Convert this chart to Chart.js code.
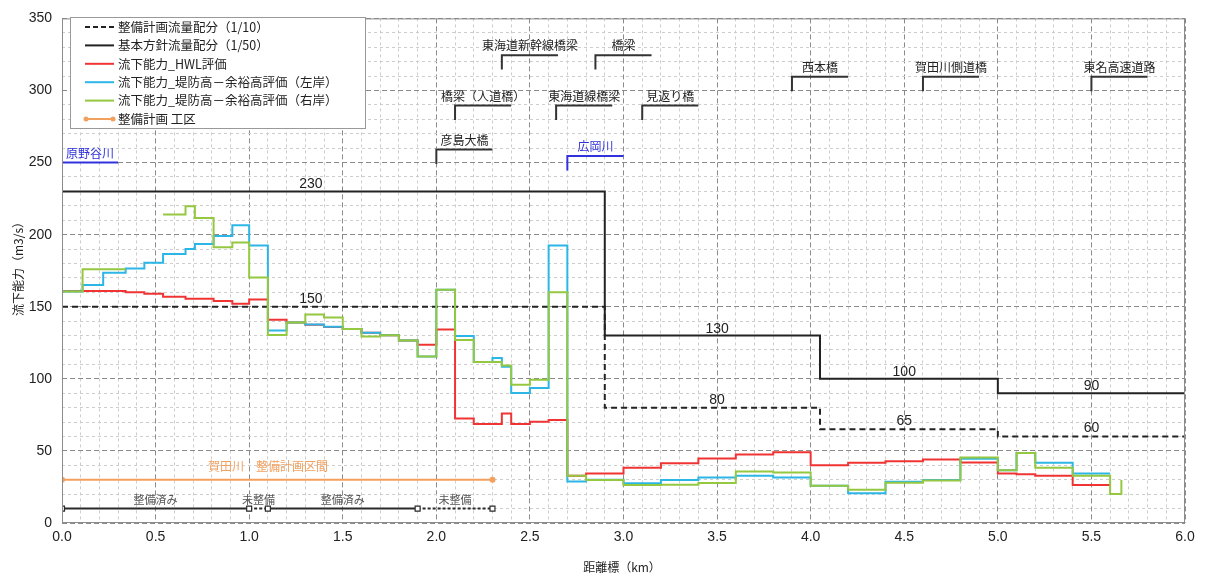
<!DOCTYPE html>
<html lang="ja">
<head>
<meta charset="utf-8">
<title>流下能力図</title>
<script src="https://cdn.jsdelivr.net/npm/chart.js@4.4.1/dist/chart.umd.min.js"></script>
<style>
  html, body { margin: 0; padding: 0; background: #fff; }
  #wrap { width: 1207px; height: 579px; position: relative; }
</style>
</head>
<body>
<div id="wrap"><canvas id="flowChart"></canvas></div>
<script>
// 計画流量配分 (区間の始点 km と流量)
const planKm = [0, 2.9, 4.05, 5.0, 6.0];
const plan10 = [150, 80, 65, 60, 60];
const plan50 = [230, 130, 100, 90, 90];
const planLabelKm = [1.33, 3.5, 4.5, 5.5];

// 流下能力 HWL評価
const hwlKm = [0, 0.34, 0.44, 0.54, 0.66, 0.81, 0.91, 1.0, 1.1, 1.2,
  1.3, 1.4, 1.5, 1.6, 1.7, 1.8, 1.9, 2.0, 2.1, 2.2,
  2.35, 2.4, 2.5, 2.6, 2.7, 2.8, 3.0, 3.2, 3.4, 3.6,
  3.8, 4.0, 4.2, 4.4, 4.6, 4.8, 5.0, 5.1, 5.2, 5.4, 5.6];
const hwlQ = [161, 160, 159, 157, 155.5, 154, 152, 155, 141, 139,
  137.5, 136, 134.5, 132, 130.2, 126.6, 123.6, 134.3, 72.5, 68.6,
  75.9, 68.6, 70.2, 71.4, 32.7, 34.3, 38.4, 41.4, 44.8, 47.5,
  49.1, 40, 41.8, 42.9, 44.1, 42, 34.3, 33.9, 32.7, 26.4, 26.4];

// 流下能力 堤防高－余裕高評価（左岸）
const leftKm = [0, 0.11, 0.22, 0.34, 0.44, 0.54, 0.66, 0.71, 0.81, 0.91,
  1.0, 1.1, 1.2, 1.3, 1.4, 1.5, 1.6, 1.7, 1.8, 1.9,
  2.0, 2.1, 2.2, 2.3, 2.35, 2.4, 2.5, 2.6, 2.7, 2.8,
  3.0, 3.2, 3.4, 3.6, 3.8, 4.0, 4.2, 4.4, 4.6, 4.8,
  5.0, 5.1, 5.2, 5.4, 5.6];
const leftQ = [160.5, 165, 173.5, 176.5, 180.5, 186.5, 190, 193.5, 199, 206.5,
  192.5, 133.5, 139, 137.7, 136.1, 134.5, 132, 130.2, 126.6, 115.5,
  161.8, 129.7, 111.6, 114.5, 108.4, 90.2, 93.6, 192.4, 28.8, 30,
  27.5, 29.8, 31.6, 32.7, 31.6, 25.9, 20.7, 28.6, 29.8, 44.5,
  36.6, 48.6, 41.8, 34.3, 34.3];

// 流下能力 堤防高－余裕高評価（右岸）  null = 欠測
const rightKm = [0, 0.11, 0.34, 0.34, 0.54, 0.66, 0.71, 0.81, 0.91, 1.0,
  1.1, 1.2, 1.3, 1.4, 1.5, 1.6, 1.7, 1.8, 1.9, 2.0,
  2.1, 2.2, 2.35, 2.4, 2.5, 2.6, 2.7, 2.8, 3.0, 3.2,
  3.4, 3.6, 3.8, 4.0, 4.2, 4.4, 4.6, 4.8, 5.0, 5.1,
  5.2, 5.4, 5.6, 5.66];
const rightQ = [160.5, 176, 176, null, 214, 219.7, 211.5, 191.3, 194.5, 170.2,
  130.4, 139, 144.7, 142.5, 134.5, 129.3, 130.2, 126.6, 115.5, 161.8,
  127, 111.6, 109.3, 95.9, 99.3, 160, 32.7, 29.8, 26.4, 26.6,
  27.7, 35.7, 35, 25.9, 23, 28, 29.5, 45.5, 36.6, 48.6,
  38.4, 32.7, 20.2, 29.8];

// 整備計画区間・工区
const sectionKm = [0, 2.3];
const sectionLevel = [30, 30];
const sectionLabel = '賀田川　整備計画区間';
const sectionLabelKm = 1.1;
const workKm = [0, 1.0, 1.1, 1.9, 2.3];
const workLevel = [10, 10, 10, 10, 10];
const workState = ['整備済み', '未整備', '整備済み', '未整備'];

// 橋梁・支川
const bridgeNames = ['原野谷川', '彦島大橋', '橋梁（人道橋）', '東海道新幹線橋梁', '東海道線橋梁',
  '橋梁', '見返り橋', '広岡川', '西本橋', '賀田川側道橋', '東名高速道路'];
const bridgeKm = [0.0, 2.0, 2.1, 2.35, 2.64, 2.85, 3.1, 2.7, 3.9, 4.6, 5.5];
const bridgeLevel = [250, 259, 289.5, 324.5, 289.5, 324.5, 289.5, 254.5, 309.5, 309.5, 309.5];
const bridgeIsRiver = [true, false, false, false, false, false, false, true, false, false, false];

// 軸
const xTickStep = 0.1;
const yTickStep = 10;

// スタイル
const RED = '#f03434';
const CYAN = '#2cb6e6';
const GREEN = '#94c840';
const ORANGE = '#f2a05e';
const BLUE = '#3232dc';
const JP = '"Noto Sans CJK JP", sans-serif';
const BRACKET_W = 0.3;
const BRACKET_DROP = 10;

Chart.defaults.font.family = '"Liberation Sans Narrow", "Liberation Sans", sans-serif';
Chart.defaults.font.size = 14;
Chart.defaults.color = '#222';

function pts(km, q) {
    return km.map((x, i) => ({ x: x, y: q[i] }));
}
function isMajor(v, step) {
    return Math.abs(v / step - Math.round(v / step)) < 1e-6;
}

const datasets = [];
// order が小さいほど前面に描かれる
datasets.push({ label: '流下能力_堤防高－余裕高評価（右岸）', data: pts(rightKm, rightQ), borderColor: GREEN, borderWidth: 2, stepped: true, pointRadius: 0, order: 1 });
datasets.push({ label: '流下能力_堤防高－余裕高評価（左岸）', data: pts(leftKm, leftQ), borderColor: CYAN, borderWidth: 2, stepped: true, pointRadius: 0, order: 2 });
datasets.push({ label: '流下能力_HWL評価', data: pts(hwlKm, hwlQ), borderColor: RED, borderWidth: 2, stepped: true, pointRadius: 0, order: 3 });
datasets.push({ label: '基本方針流量配分（1/50）', data: pts(planKm, plan50), borderColor: '#222', borderWidth: 2, stepped: true, pointRadius: 0, order: 4 });
datasets.push({ label: '整備計画流量配分（1/10）', data: pts(planKm, plan10), borderColor: '#222', borderWidth: 2, borderDash: [6, 4], stepped: true, pointRadius: 0, order: 5 });
datasets.push({ label: '整備計画 工区', data: pts(sectionKm, sectionLevel), borderColor: ORANGE, backgroundColor: ORANGE, borderWidth: 2, pointRadius: 3, pointBorderWidth: 0, order: 6 });
datasets.push({
    label: '工区', data: pts(workKm, workLevel), borderColor: '#2a2a2a', borderWidth: 2,
    pointStyle: 'rect', pointRadius: 3.5, pointBackgroundColor: '#fff', pointBorderColor: '#2a2a2a', pointBorderWidth: 1.2,
    segment: { borderDash: c => workState[c.p0DataIndex] === '未整備' ? [3, 2] : undefined },
    order: 6
});
bridgeNames.forEach((name, i) => {
    datasets.push({
        label: name,
        data: [
            { x: bridgeKm[i], y: bridgeLevel[i] - BRACKET_DROP },
            { x: bridgeKm[i], y: bridgeLevel[i] },
            { x: bridgeKm[i] + BRACKET_W, y: bridgeLevel[i] }
        ],
        borderColor: bridgeIsRiver[i] ? BLUE : '#333', borderWidth: 2, pointRadius: 0, order: 7
    });
});

// 注記・凡例・軸タイトル
const annotate = {
    id: 'annotate',
    afterDatasetsDraw(chart) {
        const { ctx, scales: { x, y } } = chart;
        ctx.save();
        ctx.textAlign = 'center';
        ctx.textBaseline = 'alphabetic';
        // 橋梁名
        ctx.font = '12px ' + JP;
        bridgeNames.forEach((name, i) => {
            ctx.fillStyle = bridgeIsRiver[i] ? BLUE : '#222';
            ctx.fillText(name, x.getPixelForValue(bridgeKm[i] + BRACKET_W / 2), y.getPixelForValue(bridgeLevel[i]) - 5);
        });
        // 流量配分の値
        ctx.font = '14px "Liberation Sans", sans-serif';
        ctx.fillStyle = '#222';
        planLabelKm.forEach((km, i) => {
            ctx.fillText(String(plan50[i]), x.getPixelForValue(km), y.getPixelForValue(plan50[i]) - 3);
            ctx.fillText(String(plan10[i]), x.getPixelForValue(km), y.getPixelForValue(plan10[i]) - 4);
        });
        // 整備計画区間
        ctx.font = '12px ' + JP;
        ctx.fillStyle = ORANGE;
        ctx.fillText(sectionLabel, x.getPixelForValue(sectionLabelKm), y.getPixelForValue(sectionLevel[0]) - 9);
        // 工区
        ctx.font = '11px ' + JP;
        ctx.fillStyle = '#555';
        workState.forEach((s, i) => {
            const mid = (workKm[i] + workKm[i + 1]) / 2;
            ctx.fillText(s, x.getPixelForValue(mid), y.getPixelForValue(workLevel[i]) - 5);
        });
        ctx.restore();
    },
    afterDraw(chart) {
        const { ctx, chartArea: a } = chart;
        ctx.save();
        // 枠
        ctx.strokeStyle = '#8c8c8c';
        ctx.lineWidth = 1;
        ctx.strokeRect(a.left + 0.5, a.top + 0.5, a.right - a.left - 1, a.bottom - a.top - 1);

        // 凡例
        const lx = 70, ly = 17, lw = 295, lh = 111;
        ctx.fillStyle = '#fff';
        ctx.fillRect(lx, ly, lw, lh);
        ctx.strokeStyle = '#999';
        ctx.strokeRect(lx + 0.5, ly + 0.5, lw, lh);
        const items = [
            { text: '整備計画流量配分（1/10）', color: '#222', dash: [5, 3] },
            { text: '基本方針流量配分（1/50）', color: '#222' },
            { text: '流下能力_HWL評価', color: RED },
            { text: '流下能力_堤防高－余裕高評価（左岸）', color: CYAN },
            { text: '流下能力_堤防高－余裕高評価（右岸）', color: GREEN },
            { text: '整備計画 工区', color: ORANGE, dots: true }
        ];
        ctx.font = '12.5px ' + JP;
        ctx.textAlign = 'left';
        ctx.textBaseline = 'middle';
        items.forEach((it, i) => {
            const yy = 27 + i * 18.4;
            ctx.strokeStyle = it.color;
            ctx.lineWidth = 2;
            ctx.setLineDash(it.dash || []);
            ctx.beginPath();
            ctx.moveTo(85, yy);
            ctx.lineTo(114, yy);
            ctx.stroke();
            ctx.setLineDash([]);
            if (it.dots) {
                ctx.fillStyle = it.color;
                [86, 113].forEach(px => { ctx.beginPath(); ctx.arc(px, yy, 2.5, 0, Math.PI * 2); ctx.fill(); });
            }
            ctx.fillStyle = '#222';
            ctx.fillText(it.text, 118, yy);
        });

        // 軸タイトル
        ctx.font = '12px ' + JP;
        ctx.fillStyle = '#222';
        ctx.textAlign = 'center';
        ctx.fillText('距離標（km）', 622, 567);
        ctx.translate(18, 266);
        ctx.rotate(-Math.PI / 2);
        ctx.fillText('流下能力（m3/s）', 0, 0);
        ctx.restore();
    }
};

const chartElement = document.getElementById('flowChart');
const flowChart = new Chart(chartElement.getContext('2d'), {
    type: 'line',
    data: { datasets: datasets },
    options: {
        responsive: true,
        maintainAspectRatio: false,
        animation: false,
        layout: { padding: { top: 10, right: 22, left: 0, bottom: 0 } },
        plugins: { legend: { display: false }, tooltip: { enabled: false } },
        scales: {
            x: {
                type: 'linear', min: 0, max: 6,
                afterFit: s => { s.height = 56; },
                ticks: {
                    stepSize: xTickStep, autoSkip: false, maxRotation: 0, padding: 6,
                    callback: v => isMajor(v, 0.5) ? v.toFixed(1) : ''
                },
                grid: {
                    drawTicks: false,
                    color: c => (c.tick && isMajor(c.tick.value, 0.5)) ? '#8a8a8a' : '#cdcdcd'
                },
                border: { display: false, dash: c => (c.tick && isMajor(c.tick.value, 0.5)) ? [5, 3] : [3, 3] }
            },
            y: {
                min: 0, max: 350,
                afterFit: s => { s.width = 62; },
                ticks: {
                    stepSize: yTickStep, autoSkip: false, padding: 10,
                    callback: v => isMajor(v, 50) ? String(v) : ''
                },
                grid: {
                    drawTicks: false,
                    color: c => (c.tick && isMajor(c.tick.value, 50)) ? '#8a8a8a' : '#cdcdcd'
                },
                border: { display: false, dash: c => (c.tick && isMajor(c.tick.value, 50)) ? [5, 3] : [3, 3] }
            }
        }
    },
    plugins: [annotate]
});
</script>
</body>
</html>
